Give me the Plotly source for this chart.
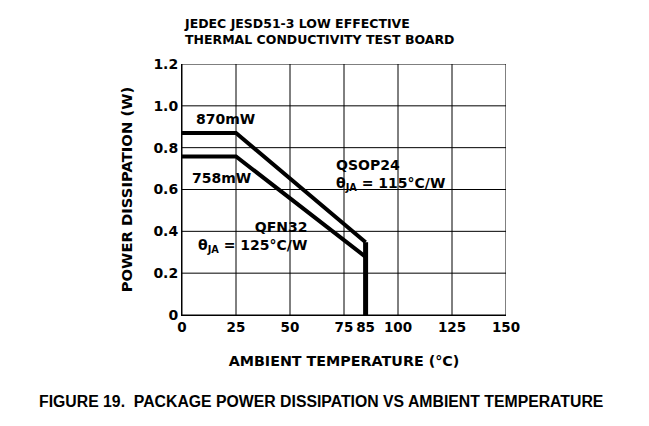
import plotly.graph_objects as go

# Data
qsop_temp = [0, 25, 85]
qsop_power = [0.87, 0.87, 0.348]
qfn_temp = [0, 25, 85]
qfn_power = [0.758, 0.758, 0.278]
cutoff_temp = [85, 85]
cutoff_power = [0.348, 0.0]

x_ticks = [0, 25, 50, 75, 85, 100, 125, 150]
x_tick_text = ["0", "25", "50", "75", "85", "100", "125", "150"]
x_grid = [0, 25, 50, 75, 100, 125, 150]
y_ticks = [0, 0.2, 0.4, 0.6, 0.8, 1.0, 1.2]
y_tick_text = ["0", "0.2", "0.4", "0.6", "0.8", "1.0", "1.2"]

FONT = "DejaVu Sans"

fig = go.Figure()
fig.add_trace(go.Scatter(x=qsop_temp, y=qsop_power, mode="lines",
                         line=dict(color="black", width=4), showlegend=False))
fig.add_trace(go.Scatter(x=qfn_temp, y=qfn_power, mode="lines",
                         line=dict(color="black", width=4), showlegend=False))
fig.add_trace(go.Scatter(x=cutoff_temp, y=cutoff_power, mode="lines",
                         line=dict(color="black", width=5), showlegend=False))

shapes = []
for gx in x_grid:
    shapes.append(dict(type="line", xref="x", yref="y", x0=gx, x1=gx, y0=0, y1=1.2,
                       line=dict(color="black", width=1), layer="below"))
for gy in y_ticks:
    shapes.append(dict(type="line", xref="x", yref="y", x0=0, x1=150, y0=gy, y1=gy,
                       line=dict(color="black", width=1), layer="below"))

tf = dict(family=FONT, size=14, color="black", weight="bold")
annotations = [
    dict(x=20, y=0.935, text="870mW", showarrow=False, font=tf),
    dict(x=18.5, y=0.655, text="758mW", showarrow=False, font=tf),
    dict(x=70.5, y=0.67, text="QSOP24<br>θ<sub>JA</sub> = 115°C/W", showarrow=False,
         font=tf, xanchor="left", align="left"),
    dict(x=59, y=0.375, text="QFN32<br>θ<sub>JA</sub> = 125°C/W", showarrow=False,
         font=tf, xanchor="right", align="right"),
    dict(xref="paper", yref="paper", x=0.0, y=1.0, yshift=50, xanchor="left", yanchor="top",
         align="left", showarrow=False,
         text="JEDEC JESD51-3 LOW EFFECTIVE<br>THERMAL CONDUCTIVITY TEST BOARD",
         font=dict(family=FONT, size=12.5, color="black", weight="bold")),
    dict(xref="paper", yref="paper", x=-0.449, y=0, yshift=-86, xanchor="left", yanchor="middle",
         showarrow=False,
         text="FIGURE 19.  PACKAGE POWER DISSIPATION VS AMBIENT TEMPERATURE",
         font=dict(family="Liberation Sans", size=15.8, color="black", weight="bold")),
]

fig.update_layout(
    width=649, height=426,
    margin=dict(l=174, r=151, t=56, b=119),
    paper_bgcolor="white", plot_bgcolor="white",
    shapes=shapes, annotations=annotations,
    xaxis=dict(range=[0, 150], tickvals=x_ticks, ticktext=x_tick_text,
               showgrid=False, zeroline=False, showline=True, linecolor="black", linewidth=1,
               ticks="", automargin=False, tickangle=0,
               tickfont=dict(family=FONT, size=13.5, color="black", weight="bold"),
               title=dict(text="AMBIENT TEMPERATURE (°C)", standoff=21,
                          font=dict(family=FONT, size=14.3, color="black", weight="bold"))),
    yaxis=dict(range=[0, 1.2], tickvals=y_ticks, ticktext=y_tick_text,
               showgrid=False, zeroline=False, showline=True, linecolor="black", linewidth=1,
               ticks="", automargin=False,
               tickfont=dict(family=FONT, size=14, color="black", weight="bold"),
               title=dict(text="POWER DISSIPATION (W)", standoff=17,
                          font=dict(family=FONT, size=14.8, color="black", weight="bold"))),
)

fig.write_html("out.html")
